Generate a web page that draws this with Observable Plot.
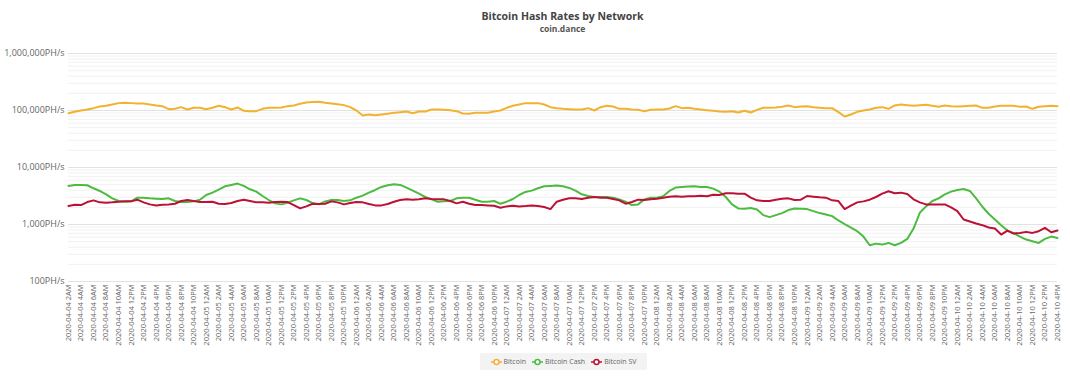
<!DOCTYPE html>
<html><head><meta charset="utf-8">
<script src="https://cdn.jsdelivr.net/npm/d3@7"></script>
<script src="https://cdn.jsdelivr.net/npm/@observablehq/plot@0.6"></script>
<style>
body{margin:0;background:#fff;font-family:"Open Sans",sans-serif;}
#wrap{position:relative;width:1070px;height:377px;overflow:hidden;}
#title{position:absolute;left:68px;width:989px;top:9px;text-align:center;font-size:10.5px;font-weight:bold;color:#444;line-height:14px;}
#sub{position:absolute;left:68px;width:989px;top:23px;text-align:center;font-size:8.5px;font-weight:bold;color:#555;line-height:12px;}
#chart{position:absolute;left:0;top:40px;}
#legend{position:absolute;left:480px;top:353px;width:167px;height:17px;background:#f3f3f3;border-radius:2px;display:flex;align-items:center;justify-content:center;gap:6px;font-size:7px;color:#666;}
#legend .it{display:flex;align-items:center;gap:2px;}
</style></head>
<body>
<div id="wrap">
<div id="title">Bitcoin Hash Rates by Network</div>
<div id="sub">coin.dance</div>
<div id="chart"></div>
<div id="legend"></div>
</div>
<script>
const seriesNames = ["Bitcoin", "Bitcoin Cash", "Bitcoin SV"];
const seriesColors = ["#f2b230", "#4cbb40", "#bb1136"];
const startTime = "2020-04-04T02:00:00Z";
const yTickValues = [100, 1000, 10000, 100000, 1000000];

const bitcoin = [89740,94730,100000,104150,109940,117650,120870,127600,134700,136500,
134700,132900,132900,127600,122530,119250,105570,107000,114500,104150,
111450,111450,105570,111450,120870,114500,104150,112960,98660,97330,
97330,107000,111450,111450,112960,119250,122530,131100,138400,140300,
142200,136500,132900,129300,124200,114500,100000,81630,85000,82740,
85000,87340,90960,93460,96020,89740,96020,96020,104150,104150,
102750,101360,97330,88530,87340,90960,90960,90960,96020,100000,
111450,120870,127600,134700,134700,134700,127600,114500,109940,107000,
105570,104150,104150,109940,100000,114500,120870,117650,107000,107000,
104150,102750,97330,102750,104150,104150,108470,119250,109940,111450,
107000,104150,101360,98660,96020,94730,97330,92200,98660,92200,
102750,111450,111450,112960,116070,122530,114500,117650,119250,114500,
111450,109940,109940,93460,78360,85000,94730,100000,104150,111450,
114500,107000,122530,127600,124200,120870,124200,125900,120870,116070,
122530,119250,117650,119250,120870,122530,111450,111450,117650,120870,
120870,120870,116070,117650,107000,116070,119250,120870,119250];

const bitcoinCash = [4750,4946,4946,4880,4319,3875,3384,2876,2581,2512,
2546,2955,2955,2876,2837,2799,2876,2581,2478,2478,
2546,2725,3294,3622,4091,4686,4946,5221,4750,4147,
3772,3163,2688,2348,2254,2412,2652,2876,2688,2380,
2254,2546,2688,2688,2581,2652,2955,3206,3622,4036,
4561,4880,5082,4946,4437,3928,3477,3037,2762,2512,
2546,2581,2876,2955,2955,2725,2512,2512,2581,2316,
2512,2799,3294,3721,3928,4319,4686,4750,4814,4686,
4378,3928,3384,3163,3037,3037,3037,2955,2762,2512,
2194,2254,2762,2955,2955,3120,3875,4437,4561,4623,
4686,4561,4561,4260,3772,3037,2254,1915,1890,1942,
1839,1461,1347,1461,1585,1790,1915,1890,1864,1719,
1585,1501,1403,1176,1014,885,762,614,432,462,
444,475,432,475,559,850,1607,2078,2581,2876,
3384,3772,4036,4203,3875,2876,2050,1543,1225,973,
783,703,614,544,508,475,559,614,582];

const bitcoinSV = [2107,2224,2194,2478,2652,2445,2412,2445,2512,2546,
2546,2725,2445,2254,2164,2224,2254,2316,2581,2688,
2581,2478,2478,2512,2316,2285,2380,2581,2725,2581,
2445,2445,2412,2478,2512,2478,2194,1915,2078,2316,
2285,2316,2546,2445,2254,2380,2478,2445,2285,2164,
2164,2285,2512,2688,2762,2725,2762,2876,2799,2762,
2762,2581,2348,2512,2316,2194,2194,2164,2135,1968,
2078,2135,2078,2107,2164,2107,2023,1864,2512,2725,
2876,2876,2799,2955,3037,2955,2955,2799,2652,2316,
2478,2725,2688,2762,2837,2955,3078,3120,3078,3120,
3120,3206,3120,3338,3294,3525,3525,3477,3477,2955,
2652,2581,2581,2725,2837,2876,2688,2725,3163,3078,
2996,2955,2652,2581,1864,2135,2445,2546,2725,3037,
3477,3823,3525,3622,3430,2762,2445,2254,2254,2254,
2254,1995,1719,1225,1130,1041,973,885,850,666,
783,693,712,742,712,762,873,731,783];

const start = new Date(startTime);
const n = bitcoin.length;
const times = d3.utcHour.range(start, d3.utcHour.offset(start, n));
const tickDates = d3.utcHour.every(2).range(start, d3.utcHour.offset(start, n));
const allValues = [bitcoin, bitcoinCash, bitcoinSV];
const data = seriesNames.flatMap((name, s) => allValues[s].map((v, i) => ({series: name, time: times[i], value: v})));

const minorTicks = [];
for (let k = 0; k < yTickValues.length - 1; k++) for (let m = 2; m <= 9; m++) minorTicks.push(yTickValues[k] * m);

const fmtDay = d3.utcFormat("%Y-%m-%d");
const fmtTick = d => { const h = d.getUTCHours(); return `${fmtDay(d)} ${h % 12 || 12}${h < 12 ? "AM" : "PM"}`; };

const chart = Plot.plot({
  width: 1070, height: 310,
  marginLeft: 68, marginRight: 13, marginTop: 13, marginBottom: 69,
  style: {fontFamily: "'Open Sans', sans-serif", background: "transparent"},
  x: {type: "utc", domain: [times[0], times[n - 1]]},
  y: {type: "log", domain: [100, 1000000]},
  color: {domain: seriesNames, range: seriesColors},
  marks: [
    Plot.ruleY(minorTicks, {stroke: "#f1f1f1", strokeWidth: 1}),
    Plot.ruleY(yTickValues, {stroke: "#e2e2e2", strokeWidth: 1}),
    Plot.lineY(data, {x: "time", y: "value", z: "series", stroke: "series", strokeWidth: 2, strokeLinejoin: "round"}),
    Plot.axisY({ticks: yTickValues, tickFormat: d => d3.format(",")(d) + "PH/s", tickSize: 0, tickPadding: 4, fontSize: 9, fill: "#666", label: null}),
    Plot.axisX({ticks: tickDates, tickFormat: fmtTick, tickRotate: -90, tickSize: 0, tickPadding: 3, fontSize: 7.5, fill: "#666", label: null})
  ]
});
document.getElementById("chart").appendChild(chart);

const legend = document.getElementById("legend");
seriesNames.forEach((name, i) => {
  const it = document.createElement("div");
  it.className = "it";
  it.innerHTML = `<svg width="11" height="8"><line x1="0" y1="4" x2="11" y2="4" stroke="${seriesColors[i]}" stroke-width="1.5"/><circle cx="5.5" cy="4" r="2.5" fill="#fff" stroke="${seriesColors[i]}" stroke-width="1.5"/></svg><span>${name}</span>`;
  legend.appendChild(it);
});
</script>
</body></html>
